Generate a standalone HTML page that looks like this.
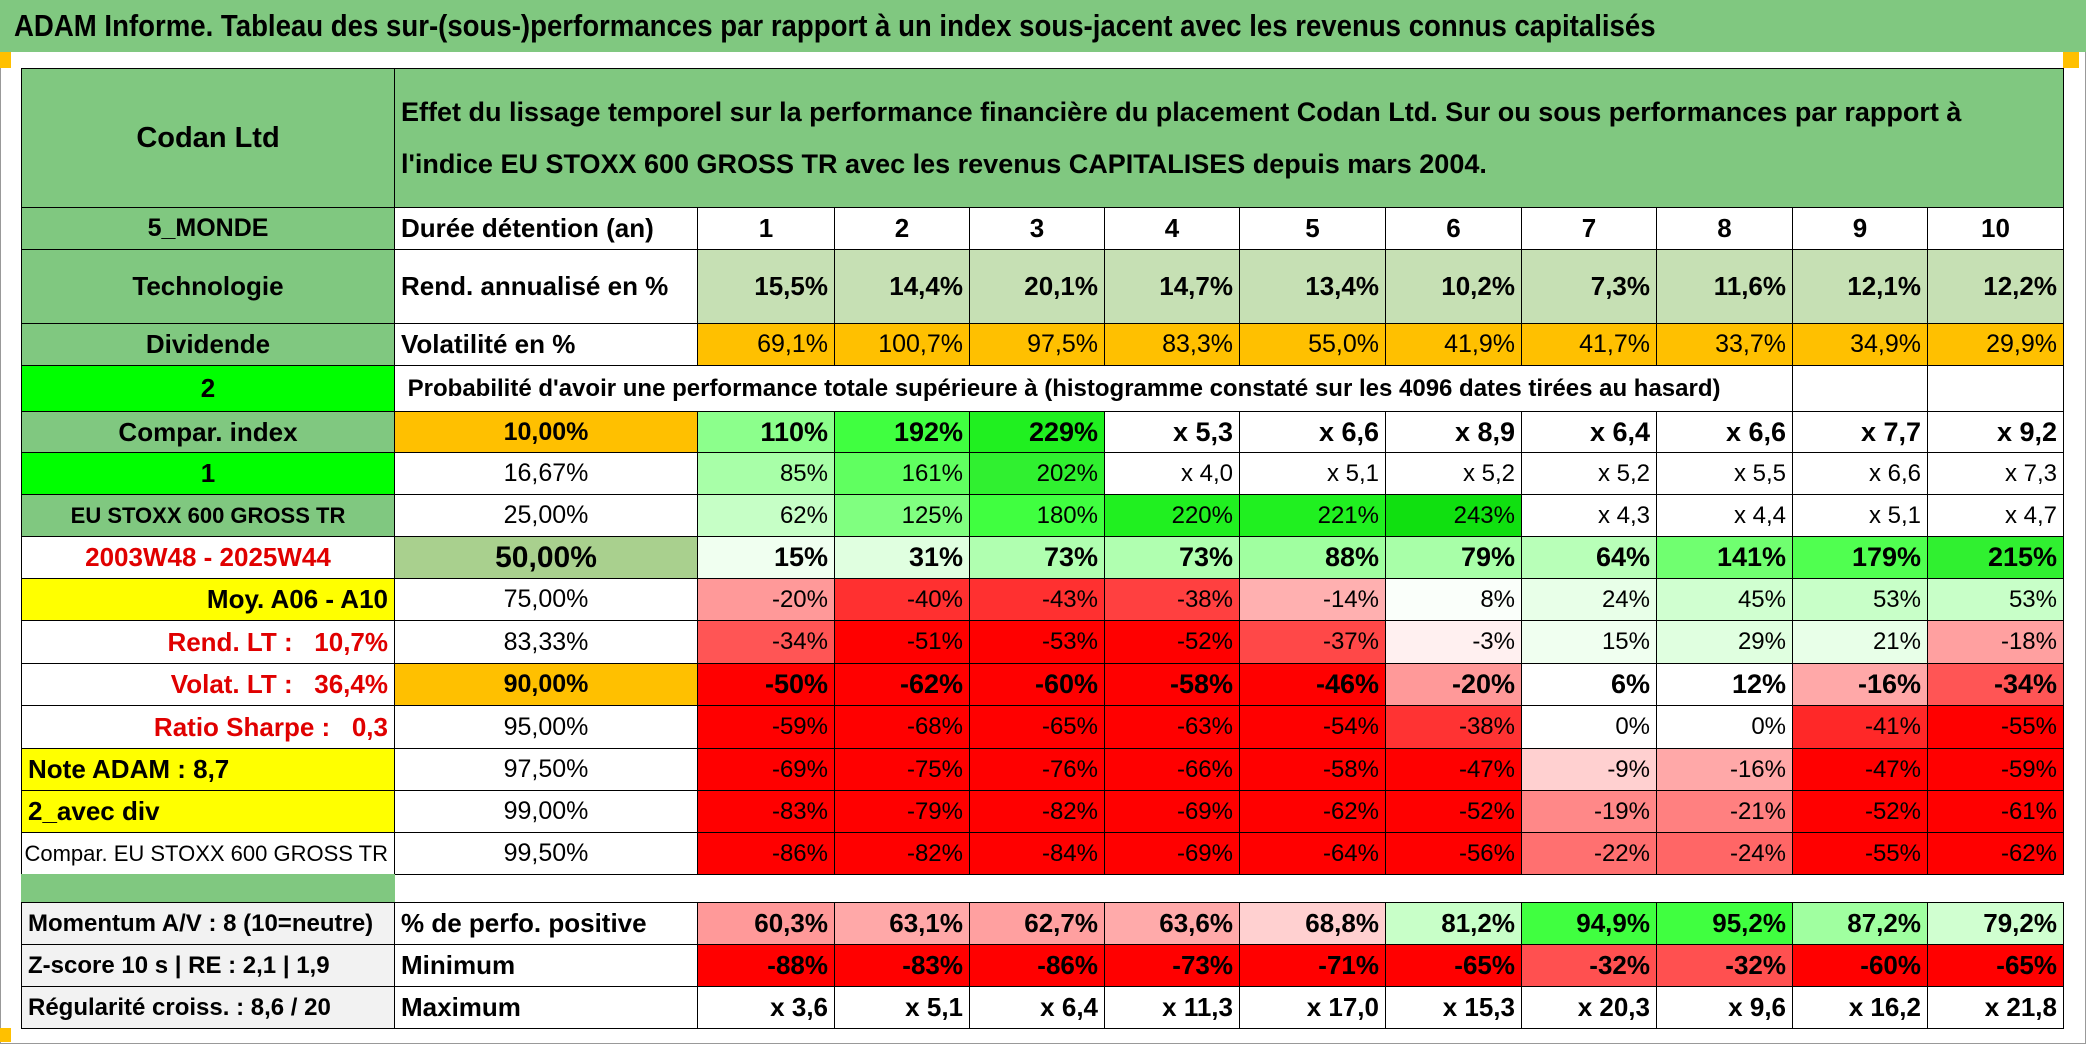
<!DOCTYPE html>
<html><head><meta charset="utf-8">
<style>
body{margin:0;width:2086px;height:1044px;background:#fff;position:relative;overflow:hidden;font-family:"Liberation Sans Narrow","Liberation Sans",sans-serif;}
.c{position:absolute;box-sizing:border-box;display:flex;align-items:center;white-space:pre;overflow:hidden;color:#000;font-size:25px;}
.b{font-weight:bold;}
</style></head><body>
<div style="position:absolute;left:0;top:0;width:2084px;height:1042px;border:1px solid #999;"></div>
<div class="c b" style="left:0;top:0;width:2086px;height:52px;background:#80C880;padding-left:14px;font-size:31px;"><span style="display:inline-block;transform:scaleX(0.89);transform-origin:left center">ADAM Informe. Tableau des sur-(sous-)performances par rapport à un index sous-jacent avec les revenus connus capitalisés</span></div>
<div style="position:absolute;left:0;top:52px;width:11px;height:16px;background:#FFC000"></div>
<div style="position:absolute;left:2063px;top:52px;width:16px;height:16px;background:#FFC000"></div>
<div style="position:absolute;left:0;top:1028px;width:11px;height:14px;background:#FFC000"></div>
<div id="t"></div>
<script>
const colX=[21,394,697,834,969,1104,1239,1385,1521,1656,1792,1927,2063];
const rowY=[68,207,249,323,365,411,452,494,536,578,620,663,705,748,790,832,874,902,944,986,1028];
const durations=["1","2","3","4","5","6","7","8","9","10"];
const rendAnn=["15,5%","14,4%","20,1%","14,7%","13,4%","10,2%","7,3%","11,6%","12,1%","12,2%"];
const volat=["69,1%","100,7%","97,5%","83,3%","55,0%","41,9%","41,7%","33,7%","34,9%","29,9%"];
const quantiles=["10,00%","16,67%","25,00%","50,00%","75,00%","83,33%","90,00%","95,00%","97,50%","99,00%","99,50%"];
const qRow0=["110%","192%","229%","x 5,3","x 6,6","x 8,9","x 6,4","x 6,6","x 7,7","x 9,2"];
const qRow1=["85%","161%","202%","x 4,0","x 5,1","x 5,2","x 5,2","x 5,5","x 6,6","x 7,3"];
const qRow2=["62%","125%","180%","220%","221%","243%","x 4,3","x 4,4","x 5,1","x 4,7"];
const qRow3=["15%","31%","73%","73%","88%","79%","64%","141%","179%","215%"];
const qRow4=["-20%","-40%","-43%","-38%","-14%","8%","24%","45%","53%","53%"];
const qRow5=["-34%","-51%","-53%","-52%","-37%","-3%","15%","29%","21%","-18%"];
const qRow6=["-50%","-62%","-60%","-58%","-46%","-20%","6%","12%","-16%","-34%"];
const qRow7=["-59%","-68%","-65%","-63%","-54%","-38%","0%","0%","-41%","-55%"];
const qRow8=["-69%","-75%","-76%","-66%","-58%","-47%","-9%","-16%","-47%","-59%"];
const qRow9=["-83%","-79%","-82%","-69%","-62%","-52%","-19%","-21%","-52%","-61%"];
const qRow10=["-86%","-82%","-84%","-69%","-64%","-56%","-22%","-24%","-55%","-62%"];
const pctPos=["60,3%","63,1%","62,7%","63,6%","68,8%","81,2%","94,9%","95,2%","87,2%","79,2%"];
const minimum=["-88%","-83%","-86%","-73%","-71%","-65%","-32%","-32%","-60%","-65%"];
const maximum=["x 3,6","x 5,1","x 6,4","x 11,3","x 17,0","x 15,3","x 20,3","x 9,6","x 16,2","x 21,8"];
const qRows=[qRow0,qRow1,qRow2,qRow3,qRow4,qRow5,qRow6,qRow7,qRow8,qRow9,qRow10];
const qBold=[true,false,false,true,false,false,true,false,false,false,false];
const qFill=[
["#8CFF8C","#40FF40","#20F020","#fff","#fff","#fff","#fff","#fff","#fff","#fff"],
["#A8FFA8","#60FF60","#30F030","#fff","#fff","#fff","#fff","#fff","#fff","#fff"],
["#C6FFC6","#80FF80","#40FF40","#20F020","#20F020","#10E010","#fff","#fff","#fff","#fff"],
["#F0FFF0","#E0FFE0","#B0FFB0","#B0FFB0","#A0FFA0","#A8FFA8","#B8FFB8","#70FF70","#50FF50","#30F030"],
["#FF9999","#FF3030","#FF3030","#FF4040","#FFB0B0","#FAFFFA","#E8FFE8","#D0FFD0","#C8FFC8","#C8FFC8"],
["#FF5555","#FF0000","#FF0000","#FF0000","#FF4848","#FFF0F0","#F0FFF0","#E0FFE0","#E8FFE8","#FFA0A0"],
["#FF0000","#FF0000","#FF0000","#FF0000","#FF0000","#FF9999","#fff","#fff","#FFA8A8","#FF5555"],
["#FF0000","#FF0000","#FF0000","#FF0000","#FF0000","#FF3333","#fff","#fff","#FF2828","#FF0000"],
["#FF0000","#FF0000","#FF0000","#FF0000","#FF0000","#FF0000","#FFD0D0","#FFA8A8","#FF0000","#FF0000"],
["#FF0000","#FF0000","#FF0000","#FF0000","#FF0000","#FF0000","#FF8888","#FF8080","#FF0000","#FF0000"],
["#FF0000","#FF0000","#FF0000","#FF0000","#FF0000","#FF0000","#FF7070","#FF6666","#FF0000","#FF0000"]];
const posFill=["#FF9999","#FFA8A8","#FFA0A0","#FFAAAA","#FFD0D0","#C8FFC8","#40FF40","#40FF40","#A0FFA0","#D0FFD0"];
const minFill=["#FF0000","#FF0000","#FF0000","#FF0000","#FF0000","#FF0000","#FF5050","#FF5050","#FF0000","#FF0000"];
const leftLabels=["Compar. index","1","EU STOXX 600 GROSS TR","2003W48 - 2025W44","Moy. A06 - A10","Rend. LT :   10,7%","Volat. LT :   36,4%","Ratio Sharpe :   0,3","Note ADAM : 8,7","2_avec div","Compar. EU STOXX 600 GROSS TR"];
const leftFill=["#80C880","#00FF00","#80C880","#fff","#FFFF00","#fff","#fff","#fff","#FFFF00","#FFFF00","#fff"];
const leftColor=["#000","#000","#000","#E00000","#000","#E00000","#E00000","#E00000","#000","#000","#000"];
const leftAlign=["center","center","center","center","flex-end","flex-end","flex-end","flex-end","flex-start","flex-start","flex-end"];
const quantFill=["#FFC000","#fff","#fff","#A9D08E","#fff","#fff","#FFC000","#fff","#fff","#fff","#fff"];
const T=document.getElementById('t');
function cell(name,x0,x1,y0,y1,txt,o){
  o=o||{};
  const d=document.createElement('div');
  d.className='c'+(o.bold?' b':'');
  
  
  d.style.left=x0+'px';d.style.top=y0+'px';d.style.width=(x1-x0+1)+'px';d.style.height=(y1-y0+1)+'px';
  d.style.background=o.bg||'#fff';
  d.style.border=o.noborder?'none':'1.5px solid #000';
  d.style.justifyContent=o.align||'flex-end';
  d.style.padding='0 6px';
  if(o.color)d.style.color=o.color;
  if(o.fs)d.style.fontSize=o.fs+'px';
  d.innerHTML=txt;
  T.appendChild(d);
  return d;
}
const X=i=>colX[i], Y=i=>rowY[i];
cell('company-name',X(0),X(1),Y(0),Y(1),'Codan Ltd',{bg:'#80C880',align:'center',bold:true,fs:29});
cell('header-description',X(1),X(12),Y(0),Y(1),'<div style="line-height:52px;white-space:normal">Effet du lissage temporel sur la performance financière du placement Codan Ltd. Sur ou sous performances par rapport à<br>l\'indice EU STOXX 600 GROSS TR avec les revenus CAPITALISES depuis mars 2004.</div>',{bg:'#80C880',align:'flex-start',bold:true,fs:27});
cell('region-label',X(0),X(1),Y(1),Y(2),'5_MONDE',{bg:'#80C880',align:'center',bold:true});
cell('duration-label',X(1),X(2),Y(1),Y(2),'Durée détention (an)',{align:'flex-start',bold:true,fs:26});
durations.forEach((v,i)=>cell('duration-'+v,X(i+2),X(i+3),Y(1),Y(2),v,{align:'center',bold:true,fs:26}));
cell('sector-label',X(0),X(1),Y(2),Y(3),'Technologie',{bg:'#80C880',align:'center',bold:true,fs:26});
cell('return-label',X(1),X(2),Y(2),Y(3),'Rend. annualisé en %',{align:'flex-start',bold:true,fs:26});
rendAnn.forEach((v,i)=>cell('annual-return-'+(i+1),X(i+2),X(i+3),Y(2),Y(3),v,{bg:'#C6E0B4',bold:true,fs:26}));
cell('dividend-label',X(0),X(1),Y(3),Y(4),'Dividende',{bg:'#80C880',align:'center',bold:true,fs:26});
cell('volatility-label',X(1),X(2),Y(3),Y(4),'Volatilité en %',{align:'flex-start',bold:true,fs:26});
volat.forEach((v,i)=>cell('volatility-'+(i+1),X(i+2),X(i+3),Y(3),Y(4),v,{bg:'#FFC000'}));
cell('index-count',X(0),X(1),Y(4),Y(5),'2',{bg:'#00FF00',align:'center',bold:true,fs:26});
cell('probability-title',X(1),X(10),Y(4),Y(5),' Probabilité d\'avoir une performance totale supérieure à (histogramme constaté sur les 4096 dates tirées au hasard)',{align:'flex-start',bold:true,fs:24});
cell('blank-9',X(10),X(11),Y(4),Y(5),'',{});
cell('blank-10',X(11),X(12),Y(4),Y(5),'',{});
qRows.forEach((row,r)=>{
  cell('left-label-'+(r+1),X(0),X(1),Y(5+r),Y(6+r),leftLabels[r],{bg:leftFill[r],color:leftColor[r],align:leftAlign[r],bold:r!==10,fs:(r===2||r===10)?22:26});
  cell('quantile-'+(r+1),X(1),X(2),Y(5+r),Y(6+r),quantiles[r],{bg:quantFill[r],align:'center',bold:qBold[r],fs:r===3?30:25});
  row.forEach((v,i)=>cell('perf-q'+(r+1)+'-y'+(i+1),X(i+2),X(i+3),Y(5+r),Y(6+r),v,{bg:qFill[r][i],bold:qBold[r],fs:qBold[r]?27:24}));
});
cell('spacer-green',X(0),X(1),Y(16),Y(17),'',{bg:'#80C880',noborder:true});
const botLeft=['Momentum A/V : 8 (10=neutre)','Z-score 10 s | RE : 2,1 | 1,9','Régularité croiss. : 8,6 / 20'];
const botMid=['% de perfo. positive','Minimum','Maximum'];
const botData=[pctPos,minimum,maximum];
const botFill=[posFill,minFill,null];
botLeft.forEach((l,r)=>{
  cell('bottom-left-'+(r+1),X(0),X(1),Y(17+r),Y(18+r),l,{bg:'#F2F2F2',align:'flex-start',bold:true,fs:24});
  cell('bottom-metric-'+(r+1),X(1),X(2),Y(17+r),Y(18+r),botMid[r],{align:'flex-start',bold:true,fs:26});
  botData[r].forEach((v,i)=>cell('bottom-'+(r+1)+'-y'+(i+1),X(i+2),X(i+3),Y(17+r),Y(18+r),v,{bg:botFill[r]?botFill[r][i]:'#fff',bold:true,fs:26}));
});
</script>
</body></html>
